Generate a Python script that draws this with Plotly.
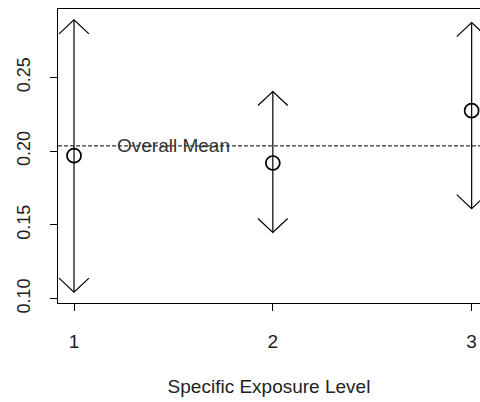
import plotly.graph_objects as go

levels = [1, 2, 3]
means = [0.197, 0.192, 0.2275]
lower = [0.1045, 0.1449, 0.1611]
upper = [0.289, 0.2405, 0.2872]
overall_mean = 0.2036
mean_label = "Overall Mean"
x_title = "Specific Exposure Level"
y_ticks = [0.10, 0.15, 0.20, 0.25]
y_ticklabels = ["0.10", "0.15", "0.20", "0.25"]

# arrow head size in data units
hx, hy = 0.075, 0.0095

xs, ys = [], []
for x, lo, hi in zip(levels, lower, upper):
    xs += [x, x, None]
    ys += [lo, hi, None]
    xs += [x - hx, x, x + hx, None]
    ys += [hi - hy, hi, hi - hy, None]
    xs += [x - hx, x, x + hx, None]
    ys += [lo + hy, lo, lo + hy, None]

fig = go.Figure()
fig.add_trace(go.Scatter(x=xs, y=ys, mode="lines",
                         line=dict(color="black", width=1.2),
                         hoverinfo="skip", showlegend=False))
fig.add_trace(go.Scatter(x=levels, y=means, mode="markers",
                         marker=dict(symbol="circle-open", size=14, color="black",
                                     line=dict(color="black", width=1.7)),
                         showlegend=False))
fig.add_hline(y=overall_mean, line=dict(color="black", width=1, dash="4px,2px"))
fig.add_annotation(x=1.5, y=overall_mean, text=mean_label, showarrow=False,
                   font=dict(family="Liberation Sans", size=19, color="#333"),
                   xanchor="center", yanchor="middle")

fig.update_layout(
    width=480, height=402,
    margin=dict(l=58, r=0, t=9, b=99),
    plot_bgcolor="white", paper_bgcolor="white",
    font=dict(family="Liberation Sans", color="#222"),
)
fig.update_xaxes(range=[0.9195, 3.042], tickvals=levels, ticktext=[str(v) for v in levels],
                 showgrid=False, zeroline=False, showline=True, mirror=True,
                 linecolor="black", linewidth=1.3, ticks="outside", ticklen=7,
                 tickcolor="black", tickfont=dict(size=19), ticklabelstandoff=14,
                 title=dict(text=x_title, font=dict(size=19), standoff=28))
fig.update_yaxes(range=[0.0971, 0.2964], tickvals=y_ticks, ticktext=y_ticklabels,
                 showgrid=False, zeroline=False, showline=True,
                 linecolor="black", linewidth=1.3, ticks="outside", ticklen=7,
                 tickcolor="black", tickangle=-90, tickfont=dict(size=18),
                 ticklabelstandoff=13)

fig.write_html("out.html")
